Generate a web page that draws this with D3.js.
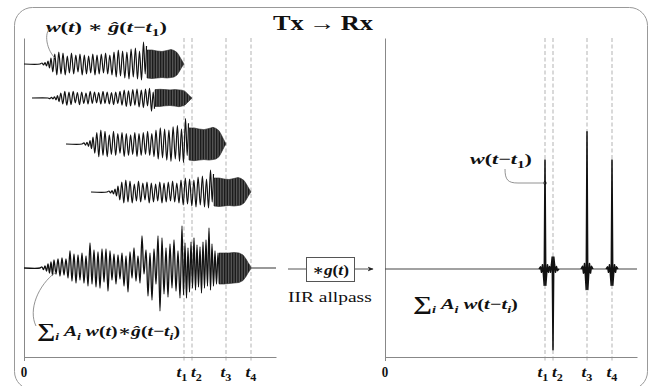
<!DOCTYPE html>
<html>
<head>
<meta charset="utf-8">
<script src="https://cdn.jsdelivr.net/npm/d3@7"></script>
<style>
  body { margin: 0; background: white; }
  svg { display: block; }
  .math { font-family: "Liberation Serif", "DejaVu Serif", serif; font-weight: bold; fill: #111; }
  .roman { font-family: "Liberation Serif", "DejaVu Serif", serif; font-weight: normal; fill: #111; }
</style>
</head>
<body>
<svg id="chart" width="655" height="386"></svg>
<script>
// arrival time of each path, same units as the x axis
const T_LABELS = ["1", "2", "3", "4"];
const T_ARRIVAL = [160, 168, 202, 227];
const T_MAX = 252;

// path gains as they show in the Tx traces and in the Rx spikes
const A_TX = [1.0, -0.6, 1.15, 1.0];
const A_RX = [1.0, -0.74, 1.26, 1.0];

// w(t)*g^(t): peaks, time relative to the end
const CHIRP_TAU = [-160, -144, -142, -140.5, -139, -137.5, -136, -134.5, -133, -131.2,
  -129.2, -127.2, -125.2, -123, -121, -118.8, -116.7, -114.6, -112.5, -110.3,
  -108.2, -106, -104, -101.8, -99.7, -97.5, -95.4, -93.3, -91.2, -89,
  -87, -84.8, -82.7, -80.5, -78.4, -76.3, -74.2, -72, -70, -67.8,
  -65.7, -63.5, -61.4, -59.2, -57.1, -55, -52.9, -50.7, -48.6, -46.5,
  -44.5, -42.5, -40.5, -38.8, -37.5];
const CHIRP_V = [0, 0, 0.1, -0.1, 0.15, -0.2, 0.3, -0.4, 0.6, -0.8,
  1.0, -1.1, 1.2, -1.0, 1.1, -1.1, 0.8, -0.9, 1.1, -1.0,
  0.9, -0.8, 1.0, -1.1, 0.9, -1.0, 0.8, -0.9, 1.0, -1.1,
  0.9, -1.0, 1.0, -0.9, 1.1, -1.0, 0.9, -1.1, 1.2, -1.3,
  1.4, -1.2, 1.3, -1.4, 1.2, -1.5, 1.5, -1.3, 1.6, -1.5,
  1.3, -1.6, 2.2, -1.0, 1.8];

// the fast part at the end of the chirp, only its envelope is readable
const TAIL_TAU = [-37, -32, -27, -22, -17, -13, -10, -7, -5, -3, -1.5, 0];
const TAIL_UP = [1.4, 1.4, 1.3, 1.25, 1.35, 1.45, 1.35, 1.15, 0.85, 0.5, 0.25, 0];
const TAIL_LO = [-1.4, -1.45, -1.4, -1.35, -1.4, -1.35, -1.3, -1.1, -0.8, -0.45, -0.2, 0];

// sum of all paths, bottom left trace
const SUM_T = [0, 16, 18, 19.5, 21, 22.5, 24, 25.5, 27, 28.5,
  30, 32, 34, 36, 38, 40, 42, 44, 46, 48,
  50, 52, 54, 56, 58, 60, 62, 64, 66, 68,
  70, 72, 74, 76, 78, 80, 82, 84, 86, 88,
  90, 92, 94, 96, 98, 100, 102, 104, 106, 108,
  110, 112, 114, 116, 118, 120, 122, 124, 126, 128,
  130, 132, 134, 136, 138, 140, 142, 144, 146, 148,
  150, 152, 154, 156, 158, 159.5, 161, 162.5, 164, 165.5,
  167, 168.5, 170, 171.5, 173, 174.5, 176, 177.5, 179, 180.5,
  182, 183.5, 185, 186.5, 188, 189.5, 191, 192.5, 194, 195.5];
const SUM_V = [0, 0, 0.1, -0.15, 0.2, -0.3, 0.4, -0.5, 0.6, -0.7,
  0.8, -0.6, 0.9, -0.8, 1.0, -0.7, 0.9, -1.0, 1.7, -1.3,
  1.4, -1.5, 1.3, -1.2, 1.5, -1.5, 1.2, -1.8, 2.5, -1.6,
  1.8, -1.9, 1.6, -2.0, 1.9, -1.4, 1.9, -2.3, 1.7, -1.2,
  1.4, -1.6, 1.3, -1.1, 1.5, -1.8, 1.2, -2.4, 1.6, -1.0,
  2.0, -1.3, 1.2, -1.5, 3.2, -0.6, 1.8, -2.8, 1.5, -3.2,
  1.9, -1.6, 3.2, -4.3, 3.0, -2.6, 2.0, -2.9, 2.4, -2.0,
  2.8, -2.3, 1.7, -3.0, 4.2, -2.7, 2.5, -3.0, 2.0, -2.4,
  2.6, -2.0, 3.0, -2.2, 2.3, -1.9, 2.1, -2.5, 2.6, -2.0,
  2.8, -1.8, 4.0, -2.2, 2.4, -1.8, 1.7, -1.6, 1.5, -1.5];
const SUM_TAIL_T = [195, 200, 205, 210, 215, 219, 222, 224, 226, 227];
const SUM_TAIL_UP = [1.5, 1.5, 1.5, 1.55, 1.5, 1.3, 0.9, 0.55, 0.25, 0];
const SUM_TAIL_LO = [-1.6, -1.6, -1.55, -1.5, -1.45, -1.25, -0.85, -0.5, -0.2, 0];

// w(t), the compressed pulse on the Rx side
const PULSE_TAU = [-6, -4.5, -3.5, -2.5, -1.6, -0.8, 0, 0.8, 1.6, 2.5, 3.5, 4.5, 6];
const PULSE_V = [0, 0.02, -0.03, 0.04, -0.05, -0.15, 1, -0.15, -0.05, 0.04, -0.03, 0.02, 0];
const DOT_V = 0.79;

// layout
const LEFT = [24, 276], RIGHT = [385, 637];
const TOP = 38, AXIS_Y = 357;
const ROW_Y = [64, 98, 144, 192];
const SUM_Y = 268, RX_Y = 269;
const TX_PX = 10, RX_PX = 109;

const svg = d3.select("#chart");
const defs = svg.append("defs");

// the fast oscillation reads as fine vertical hatching
const pat = defs.append("pattern").attr("id", "fast")
  .attr("patternUnits", "userSpaceOnUse").attr("width", 1.6).attr("height", 8);
pat.append("rect").attr("width", 1.6).attr("height", 8).attr("fill", "#777");
pat.append("rect").attr("width", 1.0).attr("height", 8).attr("fill", "#111");

const xL = d3.scaleLinear().domain([0, T_MAX]).range(LEFT);
const xR = d3.scaleLinear().domain([0, T_MAX]).range(RIGHT);

function rowScale(y0, px) {
  return d3.scaleLinear().domain([-1, 1]).range([y0 + px, y0 - px]);
}

function traceLine(x, y, curve) {
  return d3.line().x(d => x(d.t)).y(d => y(d.v)).curve(curve || d3.curveLinear);
}

function traceArea(x, y) {
  return d3.area().x(d => x(d.t)).y0(d => y(d.lo)).y1(d => y(d.up));
}

// frame
svg.append("rect")
  .attr("x", 14.5).attr("y", 7.5).attr("width", 633).attr("height", 382)
  .attr("rx", 18).attr("fill", "none").attr("stroke", "#999").attr("stroke-width", 1);

function drawAxes(x) {
  svg.append("g").selectAll("line").data(T_ARRIVAL).join("line")
    .attr("x1", d => x(d)).attr("x2", d => x(d))
    .attr("y1", TOP).attr("y2", AXIS_Y + 4)
    .attr("stroke", "#aaa").attr("stroke-width", 0.9).attr("stroke-dasharray", "4,2.5");

  const gx = svg.append("g").attr("transform", `translate(0,${AXIS_Y})`)
    .call(d3.axisBottom(x).tickValues([0]).tickSize(4).tickSizeOuter(0).tickFormat(""));
  gx.select(".domain").attr("stroke", "#888");
  gx.selectAll(".tick line").attr("stroke", "#888");

  const gy = svg.append("g").attr("transform", `translate(${x(0)},0)`)
    .call(d3.axisLeft(d3.scaleLinear().range([AXIS_Y, TOP])).tickValues([]).tickSizeOuter(0));
  gy.select(".domain").attr("stroke", "#888");
}

drawAxes(xL);
drawAxes(xR);

// text with italic parts and subscripts; squeezed or stretched to the width seen
function mathText(x, y, parts, width, size, cls, anchor) {
  const t = svg.append("text").attr("class", cls || "math").attr("font-size", size);
  var dy = 0;
  for (const [s, k] of parts) {
    const sp = t.append("tspan").text(s);
    if (k.includes("i")) sp.attr("font-style", "italic");
    const shift = k.includes("s") ? size * 0.28 : (k.includes("L") ? size * 0.08 : 0);
    if (k.includes("s")) sp.attr("font-size", size * 0.7);
    if (k.includes("L")) sp.attr("font-size", size * 1.3);
    sp.attr("dy", shift - dy);
    dy = shift;
  }
  const box = t.node().getBBox();
  const sx = width / box.width;
  const x0 = anchor == "middle" ? x - width / 2 : x;
  t.attr("transform", `translate(${x0 - box.x * sx},${y}) scale(${sx},1)`);
  return t;
}

function tickLabels(x) {
  mathText(x(0), AXIS_Y + 20, [["0", "r"]], 6.5, 14, "math", "middle");
  const nudge = [-2, 4.5, 0, 0];
  T_ARRIVAL.forEach((ti, i) => {
    mathText(x(ti) + nudge[i], AXIS_Y + 20, [["t", "i"], [T_LABELS[i], "s"]], 11, 14, "math", "middle");
  });
}

tickLabels(xL);
tickLabels(xR);

const smooth = d3.curveCatmullRom.alpha(0.5);

// Tx: one trace per path
T_ARRIVAL.forEach((ti, i) => {
  const y = rowScale(ROW_Y[i], TX_PX);
  const pts = CHIRP_TAU.map((tau, j) => ({t: ti + tau, v: A_TX[i] * CHIRP_V[j]}));
  const tail = TAIL_TAU.map((tau, j) => ({t: ti + tau, up: A_TX[i] * TAIL_UP[j], lo: A_TX[i] * TAIL_LO[j]}));
  svg.append("path").datum(pts).attr("d", traceLine(xL, y, smooth))
    .attr("fill", "none").attr("stroke", "#111").attr("stroke-width", 1.2).attr("stroke-linejoin", "round");
  svg.append("path").datum(tail).attr("d", traceArea(xL, y))
    .attr("fill", "url(#fast)").attr("stroke", "#222").attr("stroke-width", 0.6);
});

// Tx: the sum
const yS = rowScale(SUM_Y, TX_PX);
const sumPts = SUM_T.map((t, j) => ({t: t, v: SUM_V[j]}));
const sumTail = SUM_TAIL_T.map((t, j) => ({t: t, up: SUM_TAIL_UP[j], lo: SUM_TAIL_LO[j]}));
svg.append("path").datum(sumPts).attr("d", traceLine(xL, yS, smooth))
  .attr("fill", "none").attr("stroke", "#111").attr("stroke-width", 1.3).attr("stroke-linejoin", "round");
svg.append("path").datum(sumTail).attr("d", traceArea(xL, yS))
  .attr("fill", "url(#fast)").attr("stroke", "#222").attr("stroke-width", 0.6);
svg.append("path").datum([{t: SUM_TAIL_T[SUM_TAIL_T.length - 1], v: 0}, {t: T_MAX, v: 0}])
  .attr("d", traceLine(xL, yS)).attr("stroke", "#555").attr("stroke-width", 1.2);

// Rx
const yR = rowScale(RX_Y, RX_PX);
svg.append("path").datum([{t: 0, v: 0}, {t: T_MAX, v: 0}])
  .attr("d", traceLine(xR, yR)).attr("stroke", "#444").attr("stroke-width", 1.2);
T_ARRIVAL.forEach((ti, i) => {
  const pts = PULSE_TAU.map((tau, j) => ({t: ti + tau, v: A_RX[i] * PULSE_V[j]}));
  svg.append("path").datum(pts).attr("d", traceLine(xR, yR))
    .attr("fill", "none").attr("stroke", "#111").attr("stroke-width", 1.5).attr("stroke-linejoin", "round");
});
svg.append("circle").attr("cx", xR(T_ARRIVAL[0])).attr("cy", yR(DOT_V)).attr("r", 1.6).attr("fill", "#111");

// filter block
defs.append("marker").attr("id", "arr")
  .attr("viewBox", "0 0 10 10").attr("refX", 9).attr("refY", 5)
  .attr("markerWidth", 6).attr("markerHeight", 6).attr("orient", "auto")
  .append("path").attr("d", "M0,1 L10,5 L0,9 L3,5 Z").attr("fill", "#222");
svg.append("line").attr("x1", 288).attr("x2", 306).attr("y1", RX_Y).attr("y2", RX_Y)
  .attr("stroke", "#555").attr("stroke-width", 1);
svg.append("rect").attr("x", 306.5).attr("y", 257.5).attr("width", 48).attr("height", 24)
  .attr("fill", "white").attr("stroke", "#555").attr("stroke-width", 1);
svg.append("line").attr("x1", 355).attr("x2", 373).attr("y1", RX_Y).attr("y2", RX_Y)
  .attr("stroke", "#555").attr("stroke-width", 1).attr("marker-end", "url(#arr)");
mathText(312, 275, [["∗", "r"], ["g", "i"], ["(", "r"], ["t", "i"], [")", "r"]], 37, 15);
mathText(288, 302, [["IIR allpass", "r"]], 84, 15, "roman");

// title
mathText(273, 30, [["Tx\u2009→\u2009Rx", "r"]], 100, 20);

// labels and their leaders
const leader = (d) => svg.append("path").attr("d", d).attr("fill", "none")
  .attr("stroke", "#777").attr("stroke-width", 0.8);

mathText(46, 32, [["w", "i"], ["(", "r"], ["t", "i"], [")", "r"], ["\u2005∗\u2005", "r"], ["ĝ", "i"],
  ["(", "r"], ["t", "i"], ["−", "r"], ["t", "i"], ["1", "s"], [")", "r"]], 121, 15);
leader("M52,28 C44,29 45,48 55,58");

mathText(37, 336, [["∑", "L"], ["i", "is"], ["\u2005A", "i"], ["i", "is"], ["\u2005w", "i"], ["(", "r"],
  ["t", "i"], [")", "r"], ["∗", "r"], ["ĝ", "i"], ["(", "r"], ["t", "i"], ["−", "r"], ["t", "i"], ["i", "is"], [")", "r"]], 143, 15);
leader("M56,272 C38,285 28,310 36,326");

mathText(470, 164, [["w", "i"], ["(", "r"], ["t", "i"], ["−", "r"], ["t", "i"], ["1", "s"], [")", "r"]], 62, 15);
leader("M505,169 C505,180 508,183 518,183 L545,183");

mathText(413, 309, [["∑", "L"], ["i", "is"], ["\u2005A", "i"], ["i", "is"], ["\u2005w", "i"], ["(", "r"],
  ["t", "i"], ["−", "r"], ["t", "i"], ["i", "is"], [")", "r"]], 105, 15);
</script>
</body>
</html>
